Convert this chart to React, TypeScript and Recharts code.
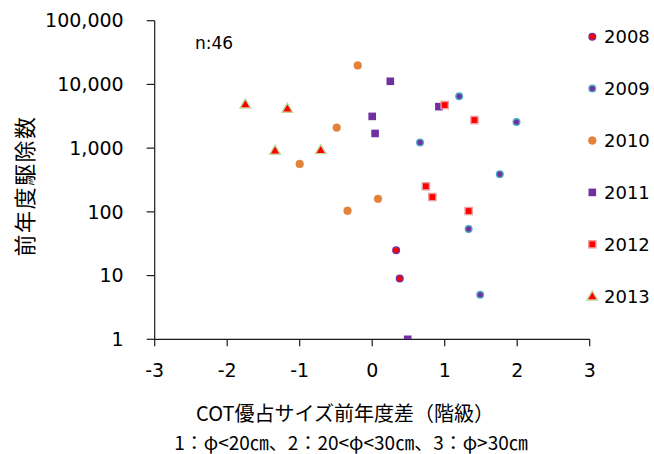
import React from 'react';
import { ScatterChart, Scatter, XAxis, YAxis, Customized } from 'recharts';

const years = ['2008', '2009', '2010', '2011', '2012', '2013'];
const xTicks = [-3, -2, -1, 0, 1, 2, 3];
const yTicks = [1, 10, 100, 1000, 10000, 100000];

const x2008 = [0.33, 0.38];
const y2008 = [25, 9];
const x2009 = [1.2, 0.66, 1.99, 1.76, 1.33, 1.49];
const y2009 = [6500, 1230, 2570, 390, 54, 5];
const x2010 = [-0.2, -0.49, -1.0, 0.08, -0.34];
const y2010 = [19900, 2100, 565, 160, 104];
const x2011 = [0.25, 0.0, 0.04, 0.92, 0.49];
const y2011 = [11200, 3150, 1700, 4480, 1];
const x2012 = [1.0, 1.41, 0.74, 0.83, 1.33];
const y2012 = [4750, 2760, 252, 171, 103];
const x2013 = [-1.75, -1.17, -1.34, -0.71];
const y2013 = [4900, 4200, 920, 940];

const toPoints = (xs: number[], ys: number[]) => xs.map((x, i) => ({ x, y: ys[i] }));

const NUM_FONT = 'DejaVu Sans';
const CJK_FONT = '"Noto Sans CJK JP", "Noto Sans CJK SC", sans-serif';

type Marker = (cx: number, cy: number, key?: string) => React.ReactElement;

const markers: Marker[] = [
  (cx, cy, key) => <circle key={key} cx={cx} cy={cy} r={3.3} fill="#ff0000" stroke="#7030a0" strokeWidth={1.4} />,
  (cx, cy, key) => <circle key={key} cx={cx} cy={cy} r={3.3} fill="#7030a0" stroke="#4bacc6" strokeWidth={1.4} />,
  (cx, cy, key) => <circle key={key} cx={cx} cy={cy} r={3.9} fill="#e3823a" stroke="#e3823a" strokeWidth={0.5} />,
  (cx, cy, key) => <rect key={key} x={cx - 3.8} y={cy - 3.8} width={7.6} height={7.6} fill="#7030a0" />,
  (cx, cy, key) => (
    <rect key={key} x={cx - 3.6} y={cy - 3.6} width={7.2} height={7.2} fill="#ff0000" stroke="#e8a0a0" strokeWidth={1.4} />
  ),
  (cx, cy, key) => (
    <polygon
      key={key}
      points={`${cx},${cy - 5.2} ${cx - 5.3},${cy + 3.8} ${cx + 5.3},${cy + 3.8}`}
      fill="#ff0000"
      stroke="#c4d79b"
      strokeWidth={1.4}
    />
  ),
];

const seriesData = [
  toPoints(x2008, y2008),
  toPoints(x2009, y2009),
  toPoints(x2010, y2010),
  toPoints(x2011, y2011),
  toPoints(x2012, y2012),
  toPoints(x2013, y2013),
];

const makeShape = (i: number) => (props: any) => markers[i](props.cx, props.cy);

const LegendBlock = () => (
  <g>
    {years.map((yr, i) => {
      const cy = 36.7 + i * 51.9;
      return (
        <g key={yr}>
          {markers[i](592.3, cy)}
          <text x={604} y={cy} dominantBaseline="central" fontFamily={NUM_FONT} fontSize={18} fill="#000">
            {yr}
          </text>
        </g>
      );
    })}
    <text x={195} y={43} dominantBaseline="central" fontFamily={NUM_FONT} fontSize={17} fill="#000">
      n:46
    </text>
  </g>
);

const XTitle = () => (
  <g>
    <text x={345} y={412} textAnchor="middle" dominantBaseline="central" fontFamily={CJK_FONT} fontSize={20} fill="#000">
      COT優占サイズ前年度差（階級）
    </text>
    <text x={351} y={441} textAnchor="middle" dominantBaseline="central" fontFamily={CJK_FONT} fontSize={19} fill="#000">
      1：φ&lt;20㎝、2：20&lt;φ&lt;30㎝、3：φ&gt;30㎝
    </text>
  </g>
);

const YTitle = () => (
  <text
    x={23}
    y={186}
    transform="rotate(-90 23 186)"
    textAnchor="middle"
    dominantBaseline="central"
    fontFamily={CJK_FONT}
    fontSize={22}
    letterSpacing={1.5}
    fill="#000"
  >
    前年度駆除数
  </text>
);

export default function App() {
  return (
    <div style={{ position: 'absolute', left: 0, top: 0, width: 654, height: 454, background: '#fff' }}>
      <ScatterChart width={654} height={454} margin={{ top: 20.7, right: 64.3, bottom: 74.7, left: 4.7 }}>
        <XAxis
          type="number"
          dataKey="x"
          domain={[-3, 3]}
          ticks={xTicks}
          height={40}
          allowDataOverflow
          tickSize={7}
          tickMargin={17}
          axisLine={{ stroke: '#1a1a1a', strokeWidth: 1.2 }}
          tickLine={{ stroke: '#1a1a1a', strokeWidth: 1.2 }}
          tick={{ fill: '#000', fontSize: 19, fontFamily: NUM_FONT }}
          label={{ content: () => <XTitle /> }}
        />
        <YAxis
          type="number"
          dataKey="y"
          scale="log"
          domain={[1, 100000]}
          ticks={yTicks}
          width={150}
          allowDataOverflow
          tickSize={8}
          tickMargin={23}
          tickFormatter={(v: number) => v.toLocaleString('en-US')}
          axisLine={{ stroke: '#1a1a1a', strokeWidth: 1.2 }}
          tickLine={{ stroke: '#1a1a1a', strokeWidth: 1.2 }}
          tick={{ fill: '#000', fontSize: 19, fontFamily: NUM_FONT }}
          label={{ content: () => <YTitle /> }}
        />
        {seriesData.map((d, i) => (
          <Scatter key={years[i]} name={years[i]} data={d} dataKey="y" shape={makeShape(i)} isAnimationActive={false} />
        ))}
        <Customized component={LegendBlock} />
      </ScatterChart>
    </div>
  );
}
